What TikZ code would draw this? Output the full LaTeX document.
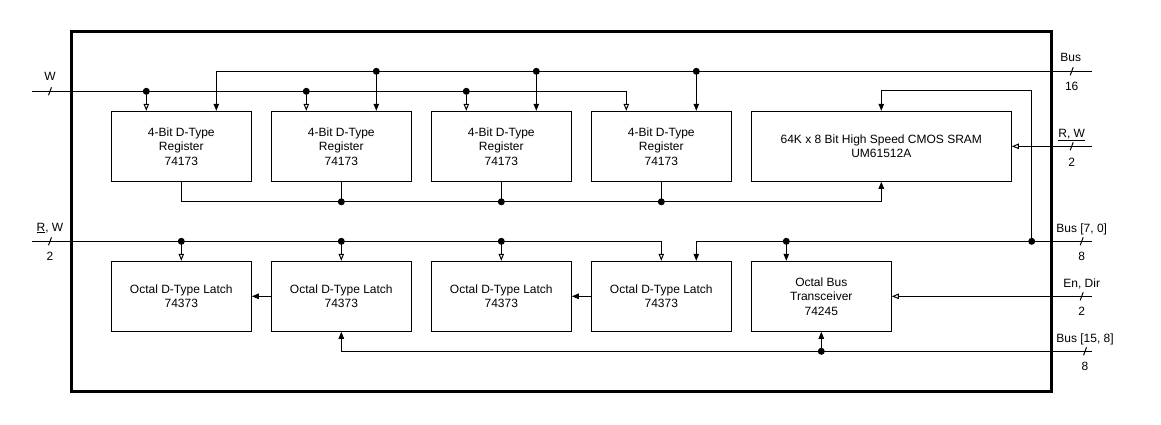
\documentclass[tikz,border=0pt]{standalone}
\usepackage{fontspec}
\setmainfont{Liberation Sans}
\usetikzlibrary{arrows.meta,calc}
\newcommand\bustick[1]{\draw[ticks] ($(#1)+(-1.5,4)$) -- ($(#1)+(1.5,-4)$);}
\begin{document}
\begin{tikzpicture}[x=1pt,y=-1pt,
  every node/.style={font=\fontsize{12}{14.5}\selectfont},
  blk/.style={draw,line width=1pt,minimum width=140pt,minimum height=70pt,inner sep=0pt,align=center},
  wire/.style={line width=1pt},
  farr/.style={wire,-{Triangle[length=7pt,width=5.5pt]}},
  oarr/.style={wire,-{Triangle[open,length=7pt,width=5.5pt,fill=white]}},
  jdot/.style={circle,fill=black,inner sep=0pt,minimum size=7pt},
  lbl/.style={inner sep=0pt,anchor=base},
  ticks/.style={line width=1pt}]
\useasboundingbox (0,0) rectangle (1161,424);
\draw[line width=3pt] (71,31) rectangle (1051.7,391);

% blocks
\node[blk] (r1) at (181.3,146.3) {4-Bit D-Type\\Register\\74173};
\node[blk] (r2) at (341.3,146.3) {4-Bit D-Type\\Register\\74173};
\node[blk] (r3) at (501.3,146.3) {4-Bit D-Type\\Register\\74173};
\node[blk] (r4) at (661.3,146.3) {4-Bit D-Type\\Register\\74173};
\node[blk,minimum width=260pt] (sram) at (881.3,146.3) {64K x 8 Bit High Speed CMOS SRAM\\UM61512A};
\node[blk] (l1) at (181.3,296.3) {Octal D-Type Latch\\74373};
\node[blk] (l2) at (341.3,296.3) {Octal D-Type Latch\\74373};
\node[blk] (l3) at (501.3,296.3) {Octal D-Type Latch\\74373};
\node[blk] (l4) at (661.3,296.3) {Octal D-Type Latch\\74373};
\node[blk] (tr) at (821.3,296.3) {Octal Bus\\Transceiver\\74245};

% outside ends
\coordinate (win) at (32,91.3);
\coordinate (rwlin) at (32,241.3);
\coordinate (b16) at (1091.7,71.3);
\coordinate (rwr) at (1091.7,146.3);
\coordinate (b70) at (1091.7,241.3);
\coordinate (endir) at (1091.7,296.3);
\coordinate (b158) at (1091.7,351.3);

% W line
\draw[oarr] (win) -| ([xshift=-35]r4.north);
\node[jdot] (w1) at ([xshift=-35]r1.north |- win) {};
\node[jdot] (w2) at ([xshift=-35]r2.north |- win) {};
\node[jdot] (w3) at ([xshift=-35]r3.north |- win) {};
\draw[oarr] (w1.center) -- ([xshift=-35]r1.north);
\draw[oarr] (w2.center) -- ([xshift=-35]r2.north);
\draw[oarr] (w3.center) -- ([xshift=-35]r3.north);

% Bus 16
\draw[farr] (b16) -| ([xshift=35]r1.north);
\node[jdot] (t2) at ([xshift=35]r2.north |- b16) {};
\node[jdot] (t3) at ([xshift=35]r3.north |- b16) {};
\node[jdot] (t4) at ([xshift=35]r4.north |- b16) {};
\draw[farr] (t2.center) -- ([xshift=35]r2.north);
\draw[farr] (t3.center) -- ([xshift=35]r3.north);
\draw[farr] (t4.center) -- ([xshift=35]r4.north);

% register outputs to SRAM
\coordinate (rbus) at ([yshift=-20]r1.south);
\draw[farr] (r1.south) -- (rbus) -| (sram.south);
\node[jdot] (o2) at (r2.south |- rbus) {};
\node[jdot] (o3) at (r3.south |- rbus) {};
\node[jdot] (o4) at (r4.south |- rbus) {};
\draw[wire] (r2.south) -- (o2.center);
\draw[wire] (r3.south) -- (o3.center);
\draw[wire] (r4.south) -- (o4.center);

% SRAM R,W
\draw[oarr] (rwr) -- (sram.east);

% Bus [7,0]
\draw[farr] (b70) -| ([xshift=35]l4.north);
\node[jdot] (s70) at (1031.7,241.3) {};
\draw[farr] (s70.center) |- ([yshift=20]sram.north) -- (sram.north);
\node[jdot] (x70) at ([xshift=-35]tr.north |- b70) {};
\draw[farr] (x70.center) -- ([xshift=-35]tr.north);

% R,W left
\draw[oarr] (rwlin) -| (l4.north);
\node[jdot] (a1) at (l1.north |- rwlin) {};
\node[jdot] (a2) at (l2.north |- rwlin) {};
\node[jdot] (a3) at (l3.north |- rwlin) {};
\draw[oarr] (a1.center) -- (l1.north);
\draw[oarr] (a2.center) -- (l2.north);
\draw[oarr] (a3.center) -- (l3.north);

% latch chain
\draw[farr] (l2.west) -- (l1.east);
\draw[farr] (l4.west) -- (l3.east);

% En, Dir
\draw[oarr] (endir) -- (tr.east);

% Bus [15,8]
\draw[farr] (b158) -| (l2.south);
\node[jdot] (x158) at (tr.south |- b158) {};
\draw[farr] (x158.center) -- (tr.south);

% bus ticks
\coordinate (k1) at (50,91.3);
\coordinate (k2) at (50,241.3);
\coordinate (k3) at (1071.7,71.3);
\coordinate (k4) at (1071.7,146.3);
\coordinate (k5) at (1081.7,241.3);
\coordinate (k6) at (1081.7,296.3);
\coordinate (k7) at (1085,351.3);
\bustick{k1}\bustick{k2}\bustick{k3}\bustick{k4}\bustick{k5}\bustick{k6}\bustick{k7}

% labels
\node[lbl] (lw) at (50,80.5) {W};
\node[lbl] (lrw) at (50,231) {\underline{R}, W};
\node[lbl] (lrw2) at (50,260) {2};
\node[lbl] (lbus) at (1070.7,61) {Bus};
\node[lbl] (l16) at (1071.7,90) {16};
\node[lbl] (lrwr) at (1071.7,137) {\underline{R, W}};
\node[lbl] (lrwr2) at (1071.7,166) {2};
\node[lbl] (lb70) at (1081.7,232) {Bus [7, 0]};
\node[lbl] (lb70n) at (1081.7,260.5) {8};
\node[lbl] (len) at (1081.7,287) {En, Dir};
\node[lbl] (len2) at (1081.7,315.5) {2};
\node[lbl] (lb158) at (1085,342) {Bus [15, 8]};
\node[lbl] (lb158n) at (1085,370.5) {8};
\end{tikzpicture}
\end{document}
